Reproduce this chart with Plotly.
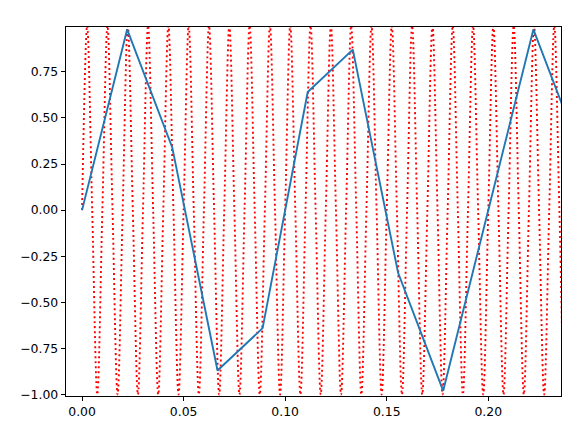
import plotly.graph_objects as go

# Dense signal (red dotted): read at quarter-period points (zero, peak, zero, trough)
red_t = [
    0.0000, 0.0025, 0.0050, 0.0075,
    0.0100, 0.0125, 0.0150, 0.0175,
    0.0200, 0.0225, 0.0250, 0.0275,
    0.0300, 0.0325, 0.0350, 0.0375,
    0.0400, 0.0425, 0.0450, 0.0475,
    0.0500, 0.0525, 0.0550, 0.0575,
    0.0600, 0.0625, 0.0650, 0.0675,
    0.0700, 0.0725, 0.0750, 0.0775,
    0.0800, 0.0825, 0.0850, 0.0875,
    0.0900, 0.0925, 0.0950, 0.0975,
    0.1000, 0.1025, 0.1050, 0.1075,
    0.1100, 0.1125, 0.1150, 0.1175,
    0.1200, 0.1225, 0.1250, 0.1275,
    0.1300, 0.1325, 0.1350, 0.1375,
    0.1400, 0.1425, 0.1450, 0.1475,
    0.1500, 0.1525, 0.1550, 0.1575,
    0.1600, 0.1625, 0.1650, 0.1675,
    0.1700, 0.1725, 0.1750, 0.1775,
    0.1800, 0.1825, 0.1850, 0.1875,
    0.1900, 0.1925, 0.1950, 0.1975,
    0.2000, 0.2025, 0.2050, 0.2075,
    0.2100, 0.2125, 0.2150, 0.2175,
    0.2200, 0.2225, 0.2250, 0.2275,
    0.2300, 0.2325, 0.2350, 0.2375,
    0.2400,
]
red_y = [
    0, 1, 0, -1,
    0, 1, 0, -1,
    0, 1, 0, -1,
    0, 1, 0, -1,
    0, 1, 0, -1,
    0, 1, 0, -1,
    0, 1, 0, -1,
    0, 1, 0, -1,
    0, 1, 0, -1,
    0, 1, 0, -1,
    0, 1, 0, -1,
    0, 1, 0, -1,
    0, 1, 0, -1,
    0, 1, 0, -1,
    0, 1, 0, -1,
    0, 1, 0, -1,
    0, 1, 0, -1,
    0, 1, 0, -1,
    0, 1, 0, -1,
    0, 1, 0, -1,
    0, 1, 0, -1,
    0, 1, 0, -1,
    0, 1, 0, -1,
    0, 1, 0, -1,
    0,
]

# Sampled signal (blue solid)
blue_t = [0.0, 0.0222, 0.0444, 0.0667, 0.0889, 0.1111, 0.1333,
          0.1556, 0.1778, 0.2000, 0.2222, 0.2444]
blue_y = [0.0, 0.98, 0.34, -0.87, -0.64, 0.64, 0.87,
          -0.34, -0.98, 0.0, 0.98, 0.34]

x_ticks = [0.00, 0.05, 0.10, 0.15, 0.20]
y_ticks = [-1.00, -0.75, -0.50, -0.25, 0.00, 0.25, 0.50, 0.75]

fig = go.Figure()
fig.add_trace(go.Scatter(
    x=red_t, y=red_y, mode="lines",
    line=dict(color="red", width=1.9, dash="2px,3px", shape="spline", smoothing=1.0),
    showlegend=False, hoverinfo="skip",
))
fig.add_trace(go.Scatter(
    x=blue_t, y=blue_y, mode="lines",
    line=dict(color="#1f77b4", width=1.9),
    showlegend=False,
))

axis_common = dict(
    showgrid=False, zeroline=False, automargin=False,
    showline=True, linecolor="black", linewidth=1, mirror=True,
    ticks="outside", ticklen=4.3, tickwidth=1, tickcolor="black",
    tickfont=dict(family="DejaVu Sans", size=12.4, color="black"),
    tickformat=".2f",
)

# page body has an 8px margin, so the figure is sized to fit the window
fig.update_layout(
    width=563, height=421,
    margin=dict(l=58, r=10, t=19, b=33),
    paper_bgcolor="white", plot_bgcolor="white",
    xaxis=dict(range=[-0.0079, 0.2358], tickvals=x_ticks, **axis_common),
    yaxis=dict(range=[-1.008, 0.993], tickvals=y_ticks, **axis_common),
)

fig.write_html("out.html")
